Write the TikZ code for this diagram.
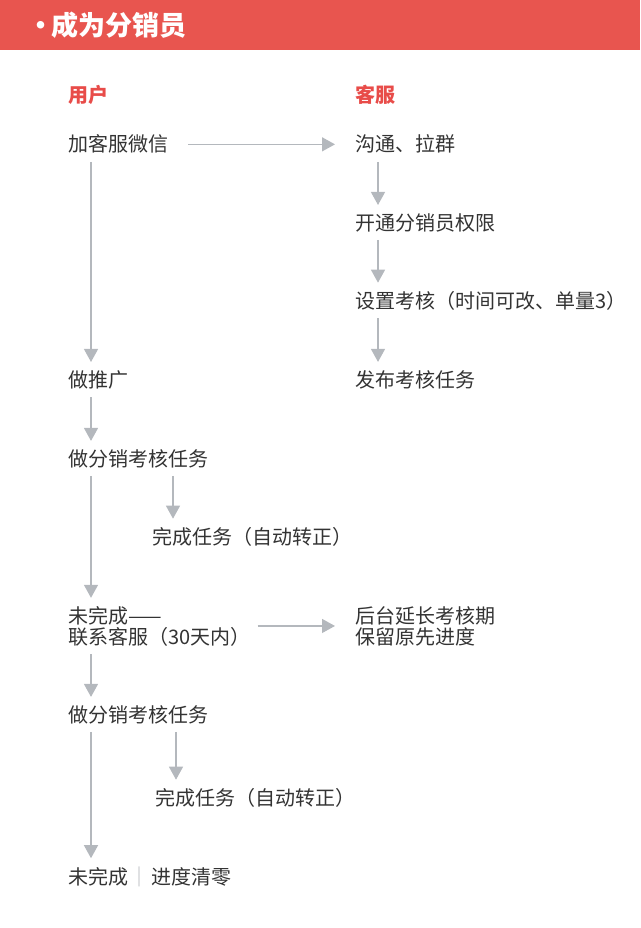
\documentclass[tikz,border=0pt]{standalone}
\usepackage{fontspec}
\setmainfont{Noto Sans CJK SC}
\usetikzlibrary{arrows.meta,positioning}
\definecolor{headred}{HTML}{E8554F}
\definecolor{labelred}{HTML}{E84C49}
\definecolor{txtgray}{HTML}{333333}
\definecolor{arrgray}{HTML}{B4B8BD}

\begin{document}
\begin{tikzpicture}[x=1pt,y=-1pt,
  stepbox/.style={anchor=base west,inner sep=0pt,text=txtgray,align=left,
    font=\fontsize{20}{21}\selectfont},
  colhead/.style={anchor=base west,inner sep=0pt,text=labelred,
    font=\fontsize{20}{24}\selectfont\bfseries},
  flow/.style={-{Triangle[length=13pt,width=14pt]},line width=1.3pt,draw=arrgray,
    shorten <=8pt,shorten >=8pt}]
  \useasboundingbox (0,0) rectangle (640,928);

  % header bar
  \fill[headred] (0,0) rectangle (640,50);
  \node[anchor=base west,inner sep=0pt,text=white,font=\fontsize{27}{30}\selectfont\bfseries] (title) at (27,36) {·\kern-3pt 成为分销员};

  % columns
  \node[colhead] (user) at (68,103) {用户};
  \node[colhead] (service) at (355,103) {客服};

  % service side
  \node[stepbox] (wechat) at (68,152) {加客服微信};
  \node[stepbox] (group) at (355,152) {沟通、拉群};
  \node[stepbox] (grant) at (355,230) {开通分销员权限};
  \node[stepbox] (setup) at (355,308) {设置考核（时间可改、单量3）};
  \node[stepbox] (publish) at (355,387) {发布考核任务};

  % user side
  \node[stepbox] (promote) at (68,387) {做推广};
  \node[stepbox] (task1) at (68,466) {做分销考核任务};
  \node[stepbox] (done1) at (152,544) {完成任务（自动转正）};
  \node[stepbox] (fail1) at (68,644) {未完成——\\联系客服（30天内）};
  \node[stepbox] (extend) at (355,644) {后台延长考核期\\保留原先进度};
  \node[stepbox] (task2) at (68,722) {做分销考核任务};
  \node[stepbox] (done2) at (155,805) {完成任务（自动转正）};
  \node[stepbox] (fail2) at (68,884) {未完成\kern1pt{\color{arrgray}｜}\kern2pt 进度清零};

  % connectors
  \draw[flow,shorten <=20pt,shorten >=20pt] (wechat.east) -- (wechat.east -| group.west);
  \draw[flow] ([xshift=23pt]group.south west) -- ([xshift=23pt]grant.north west);
  \draw[flow] ([xshift=23pt]grant.south west) -- ([xshift=23pt]setup.north west);
  \draw[flow] ([xshift=23pt]setup.south west) -- ([xshift=23pt]publish.north west);

  \draw[flow] ([xshift=23pt]wechat.south west) -- ([xshift=23pt]promote.north west);
  \draw[flow] ([xshift=23pt]promote.south west) -- ([xshift=23pt]task1.north west);
  \draw[flow] ([xshift=21pt]done1.north west |- task1.south) -- ([xshift=21pt]done1.north west);
  \draw[flow] ([xshift=23pt]task1.south west) -- ([xshift=23pt]fail1.north west);
  \draw[flow,shorten <=7pt,shorten >=20pt] (fail1.east) -- (fail1.east -| extend.west);
  \draw[flow] ([xshift=23pt]fail1.south west) -- ([xshift=23pt]task2.north west);
  \draw[flow] ([xshift=21pt]done2.north west |- task2.south) -- ([xshift=21pt]done2.north west);
  \draw[flow] ([xshift=23pt]task2.south west) -- ([xshift=23pt]fail2.north west);
\end{tikzpicture}
\end{document}
